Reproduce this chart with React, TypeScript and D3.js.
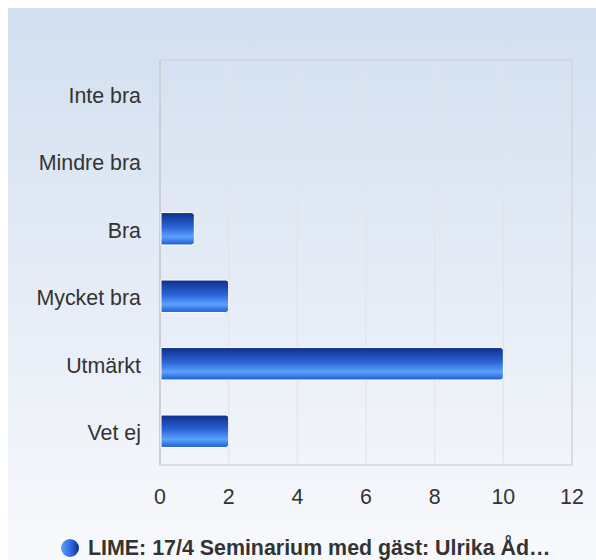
import React from "react";
import * as d3 from "d3";

const categories = ["Inte bra", "Mindre bra", "Bra", "Mycket bra", "Utmärkt", "Vet ej"];
const values = [0, 0, 1, 2, 10, 2];
const xTicks = [0, 2, 4, 6, 8, 10, 12];
const seriesName = "LIME: 17/4 Seminarium med gäst: Ulrika Åd…";

const W = 596;
const H = 560;
const OX = 8;
const OY = 8;
const M = { left: 160, top: 60, right: 24, bottom: 95 };

export default function App() {
  const x = d3.scaleLinear().domain([0, 12]).range([M.left, W - M.right]);
  const y = d3.scaleBand().domain(categories).range([M.top, H - M.bottom]).paddingInner(0.52).paddingOuter(0.26);
  const font = "Arial, 'Liberation Sans', Helvetica, sans-serif";
  const fs = 21.4;
  const x0 = x(0);
  const barPath = (v: number, cat: string) => {
    const y0 = y(cat)!;
    const h = y.bandwidth();
    const x1 = x(v);
    const r = 3;
    return `M${x0 + 1},${y0} H${x1 - r} Q${x1},${y0} ${x1},${y0 + r} V${y0 + h - r} Q${x1},${y0 + h} ${x1 - r},${y0 + h} H${x0 + 1} Z`;
  };
  return (
    <>
      <style>{`html,body{margin:0;padding:0;overflow:hidden;background:#fff}`}</style>
      <svg width={W} height={H} style={{ display: "block" }} fontFamily={font}>
        <defs>
          <linearGradient id="bg" x1="0" y1="0" x2="0" y2="1">
            <stop offset="0" stopColor="#d2dff0" />
            <stop offset="1" stopColor="#f8f9fc" />
          </linearGradient>
          <linearGradient id="bar" x1="0" y1="0" x2="0" y2="1">
            <stop offset="0" stopColor="#0d2f8c" />
            <stop offset="0.45" stopColor="#2b63d6" />
            <stop offset="0.75" stopColor="#5aa2ff" />
            <stop offset="1" stopColor="#1d5ad0" />
          </linearGradient>
          <linearGradient id="leg" x1="0" y1="0" x2="1" y2="0">
            <stop offset="0" stopColor="#5aa2ff" />
            <stop offset="0.6" stopColor="#2b63d6" />
            <stop offset="1" stopColor="#0d2f8c" />
          </linearGradient>
        </defs>
        <rect x={0} y={0} width={W} height={H} fill="#ffffff" />
        <rect x={OX} y={OY} width={W - OX} height={H - OY} fill="url(#bg)" />
        {xTicks.map((t) => (
          <line key={t} x1={x(t)} x2={x(t)} y1={M.top} y2={H - M.bottom} stroke="#e1e4ea" strokeWidth={1.2} />
        ))}
        <rect x={M.left} y={M.top} width={W - M.left - M.right} height={H - M.top - M.bottom} fill="none" stroke="#d3d6dc" strokeWidth={1.5} />
        <line x1={x0} x2={x0} y1={M.top} y2={H - M.bottom} stroke="#c8cacf" strokeWidth={1.5} />
        {categories.map((c, i) =>
          values[i] > 0 ? (
            <path key={c} d={barPath(values[i], c)} fill="url(#bar)" stroke="#ffffff" strokeWidth={1} />
          ) : null
        )}
        {categories.map((c) => (
          <text key={c} x={M.left - 19} y={y(c)! + y.bandwidth() / 2 + 1.5} dy="0.35em" textAnchor="end" fontSize={fs} fill="#333">
            {c}
          </text>
        ))}
        {xTicks.map((t) => (
          <text key={t} x={x(t)} y={H - M.bottom + 32} dy="0.35em" textAnchor="middle" fontSize={fs} fill="#333">
            {t}
          </text>
        ))}
        <circle cx={70} cy={548} r={9} fill="url(#leg)" />
        <text x={88} y={548} dy="0.35em" fontSize={fs} fontWeight="bold" fill="#333">
          {seriesName}
        </text>
      </svg>
    </>
  );
}
